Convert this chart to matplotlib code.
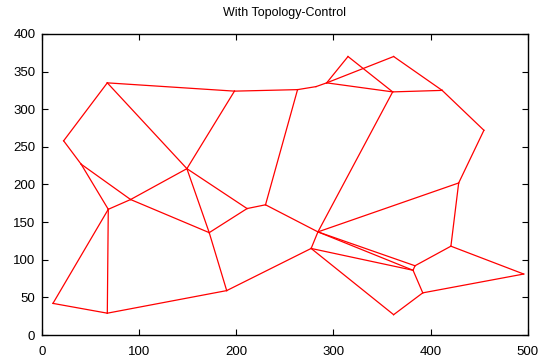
from matplotlib import pyplot as plt

plt.rcParams['font.family'] = ['Liberation Sans', 'DejaVu Sans']

# node positions
node_x = [11, 67, 68, 22, 67, 40, 91, 149, 172, 190,
          198, 211, 230, 263, 282, 293, 315, 362, 361, 412,
          455, 429, 421, 496, 392, 362, 384, 382, 284, 277]
node_y = [42, 29, 167, 258, 335, 227, 180, 221, 136, 59,
          324, 168, 173, 326, 330, 335, 370, 370, 323, 325,
          272, 202, 118, 81, 56, 27, 92, 86, 137, 115]

# links between nodes (index pairs)
edge_from = [0, 0, 1, 1, 2, 2, 3, 3, 5, 6, 6, 4, 4, 10, 10, 13, 14, 15, 15, 15,
             16, 17, 18, 19, 20, 13, 11, 7, 7, 8, 8, 9, 12, 18, 28, 28, 28, 28,
             29, 29, 25, 24, 26, 26, 22, 22, 24]
edge_to = [1, 2, 2, 9, 5, 6, 5, 4, 6, 7, 8, 7, 10, 7, 13, 14, 15, 16, 17, 18,
           18, 19, 19, 20, 21, 12, 12, 11, 8, 11, 9, 29, 28, 28, 21, 29, 26, 27,
           27, 25, 24, 27, 27, 22, 21, 23, 23]

fig = plt.figure(figsize=(5.49, 3.61), dpi=100)
ax = fig.add_axes([0.077, 0.072, 0.884, 0.834])

for a, b in zip(edge_from, edge_to):
    ax.plot([node_x[a], node_x[b]], [node_y[a], node_y[b]], color='#ff0000', lw=0.9)

ax.set_xlim(0, 500)
ax.set_ylim(0, 400)
ax.set_xticks(range(0, 501, 100))
ax.set_yticks(range(0, 401, 50))
ax.tick_params(direction='in', top=True, right=True, length=4, width=0.8, labelsize=9.5, pad=5)
ax.tick_params(axis='x', pad=8)
for s in ax.spines.values():
    s.set_linewidth(1.0)
ax.set_title("With Topology-Control", fontsize=9, pad=13)

fig.savefig("out.png", dpi=100)
